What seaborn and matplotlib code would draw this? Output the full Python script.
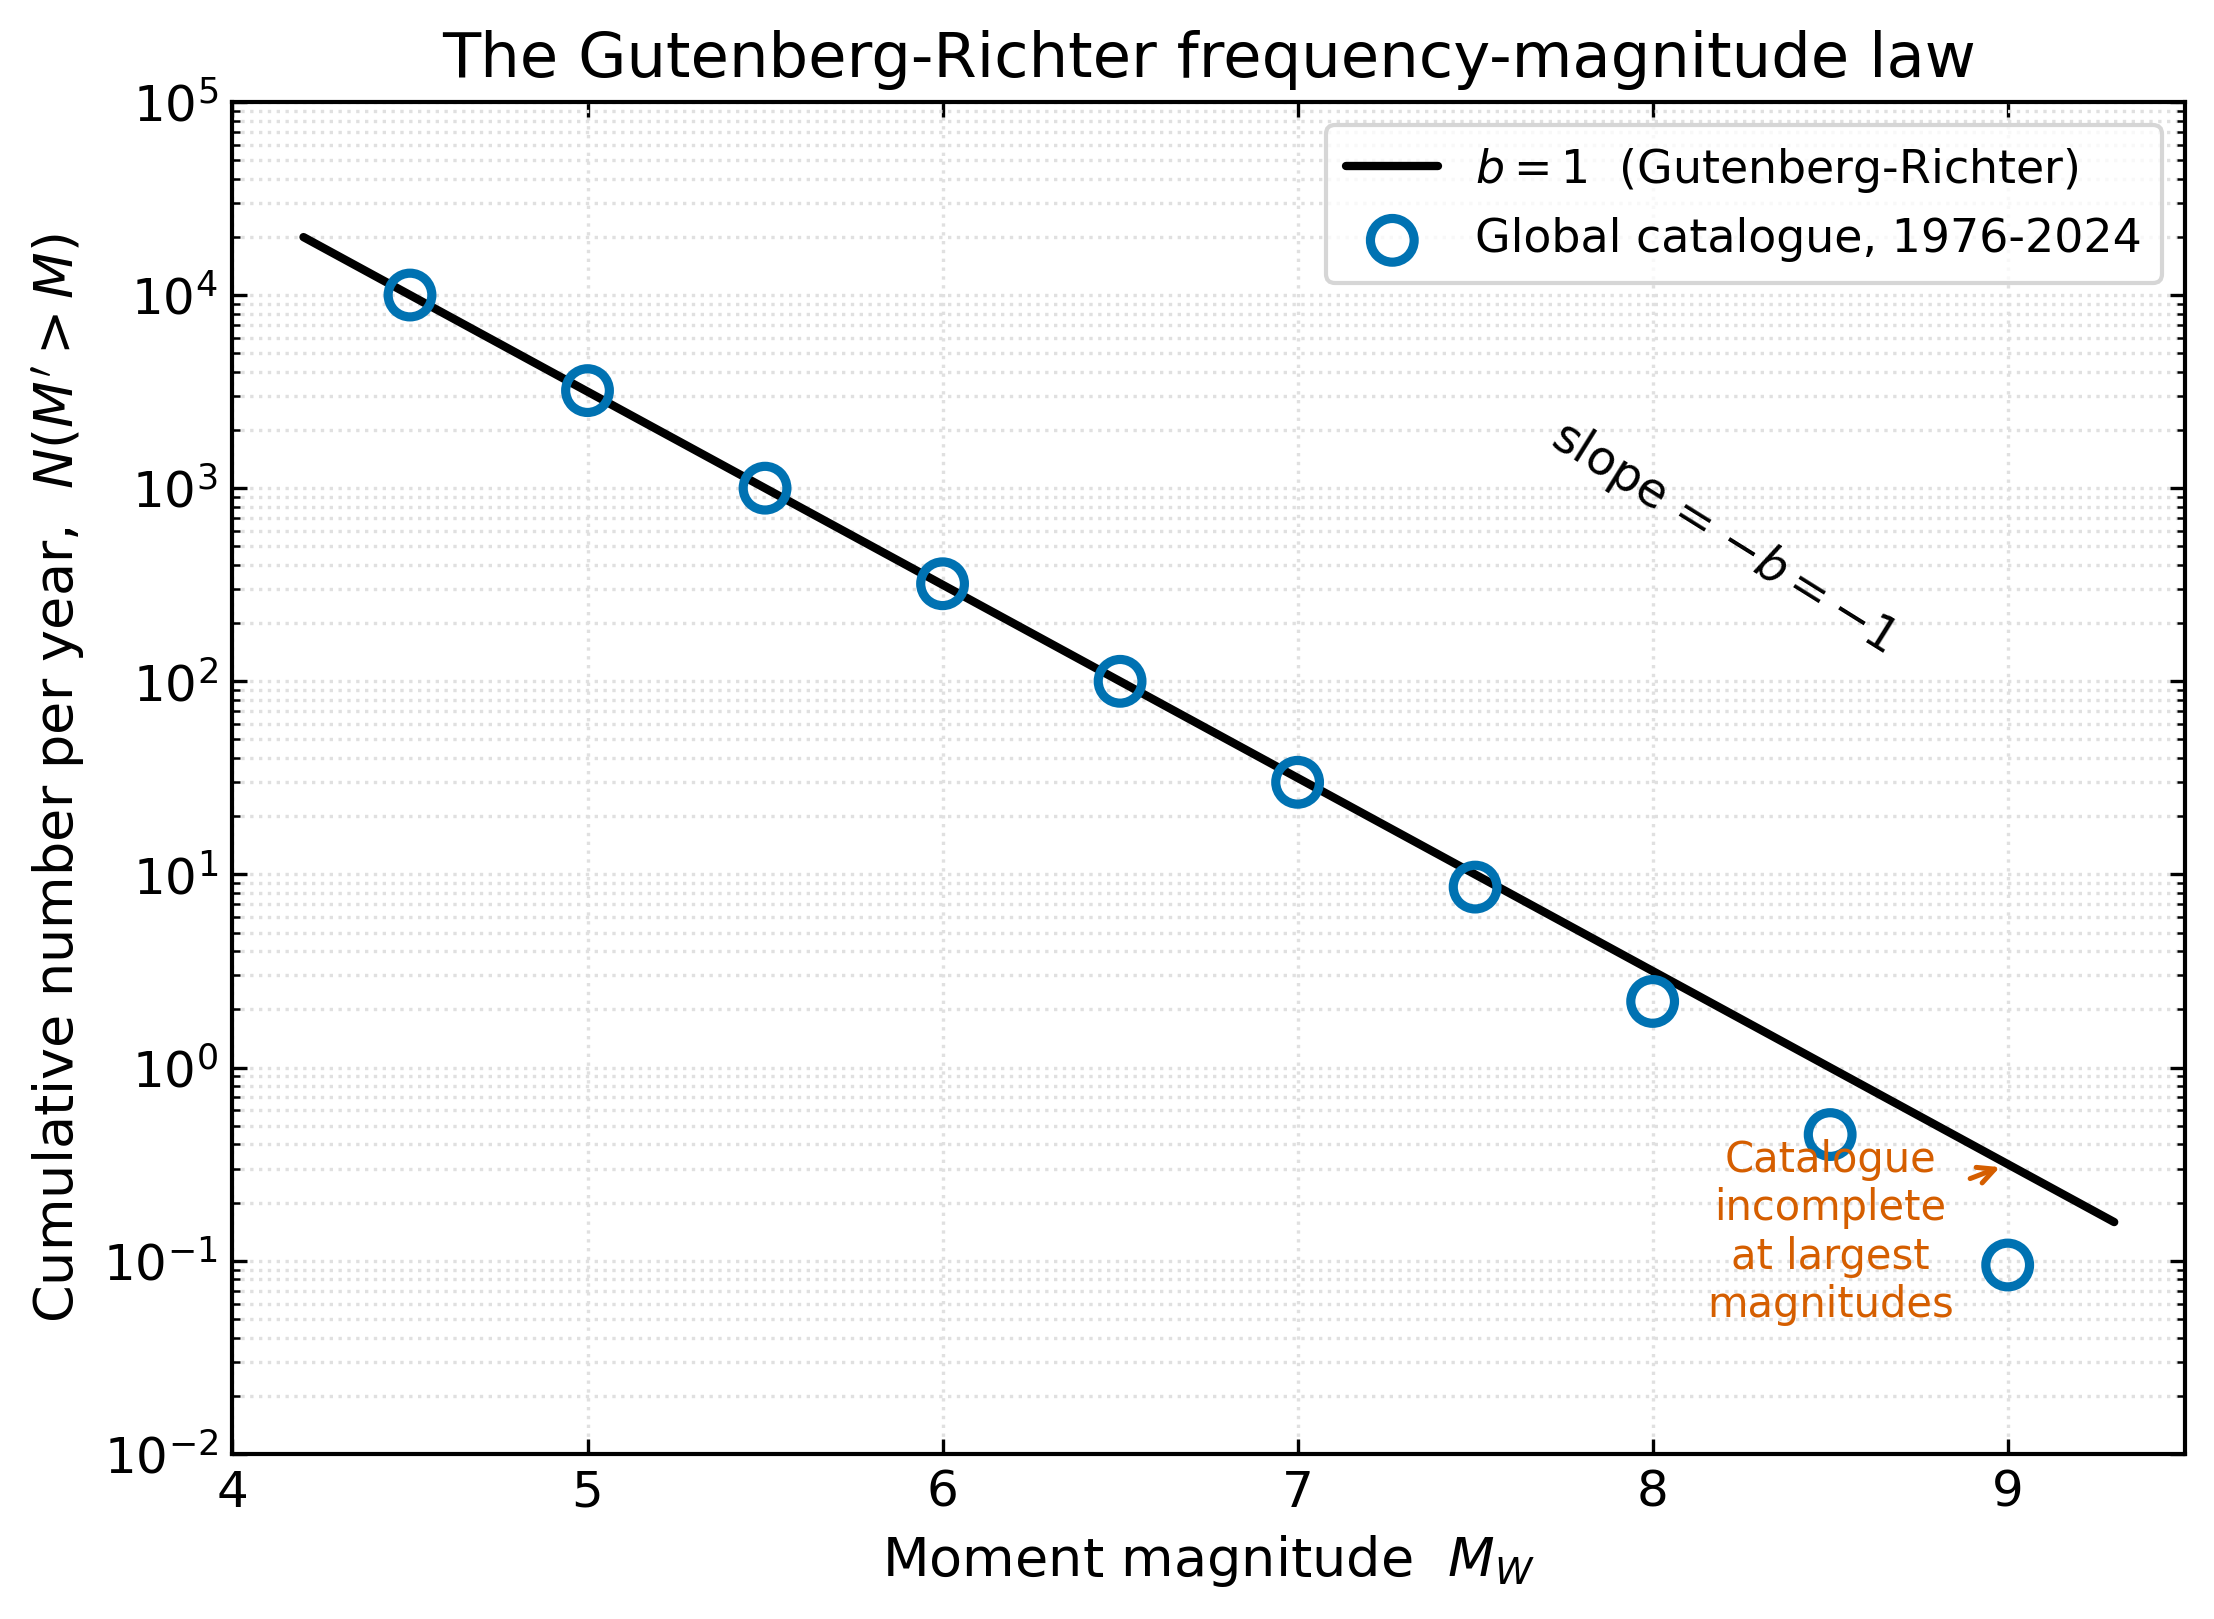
import numpy as np
import pandas as pd
import matplotlib
matplotlib.use("Agg")
import matplotlib.pyplot as plt
import seaborn as sns

# Observed catalogue (cumulative annual counts)
magnitudes = [4.5, 5.0, 5.5, 6.0, 6.5, 7.0, 7.5, 8.0, 8.5, 9.0]
counts = [1.0e4, 3.2e3, 1.0e3, 3.2e2, 1.0e2, 30.0, 8.6, 2.2, 0.45, 0.095]

# Gutenberg-Richter law, log10 N = a - b M
a_value = 8.5
b_value = 1.0
m_line = np.linspace(4.2, 9.3, 200)
n_line = 10 ** (a_value - b_value * m_line)

obs = pd.DataFrame({"M": magnitudes, "N": counts})
fit = pd.DataFrame({"M": m_line, "N": n_line})

sns.set_style("ticks")
plt.rcParams['font.family'] = ['DejaVu Sans']
plt.rcParams['mathtext.fontset'] = 'dejavusans'
for key in ["text.color", "axes.labelcolor", "xtick.color", "ytick.color", "axes.edgecolor"]:
    plt.rcParams[key] = "black"

fig, ax = plt.subplots(figsize=(7.38, 5.397), dpi=300)
fig.subplots_adjust(left=0.105, right=0.987, top=0.937, bottom=0.102)

sns.lineplot(data=fit, x="M", y="N", color="black", linewidth=2.0,
             label=r"$b = 1$  (Gutenberg-Richter)", ax=ax)
sns.scatterplot(data=obs, x="M", y="N", marker="o", s=110,
                facecolor="none", edgecolor="#0072B2", linewidth=2.2,
                label="Global catalogue, 1976-2024", ax=ax, zorder=3)

ax.set_yscale("log")
ax.set_xlim(4, 9.5)
ax.set_ylim(1e-2, 1e5)
ax.set_xticks([4, 5, 6, 7, 8, 9])

ax.grid(True, which="both", linestyle=":", color="#e0e0e0", linewidth=0.8)
ax.tick_params(which="both", direction="in", top=True, right=True)
ax.tick_params(axis="both", which="major", labelsize=12)
for s in ax.spines.values():
    s.set_linewidth(1.0)

ax.set_title("The Gutenberg-Richter frequency-magnitude law", fontsize=15)
ax.set_xlabel(r"Moment magnitude  $M_W$", fontsize=13)
ax.set_ylabel(r"Cumulative number per year,  $N(M' > M)$", fontsize=13)

ax.text(8.2, 560, r"slope = $-b = -1$", rotation=-32, fontsize=11.5,
        ha="center", va="center")

ax.annotate("Catalogue\nincomplete\nat largest\nmagnitudes",
            xy=(9.0, 10 ** (a_value - b_value * 9.0)), xytext=(8.5, 0.14),
            ha="center", va="center", fontsize=10, color="#D55E00",
            arrowprops=dict(arrowstyle="->", color="#D55E00", lw=1.2))

leg = ax.legend(loc="upper right", fontsize=11, frameon=True, fancybox=True,
                borderpad=0.45, handlelength=2.0)
leg.get_frame().set_edgecolor("#cccccc")

fig.savefig("out.png", dpi=300)
